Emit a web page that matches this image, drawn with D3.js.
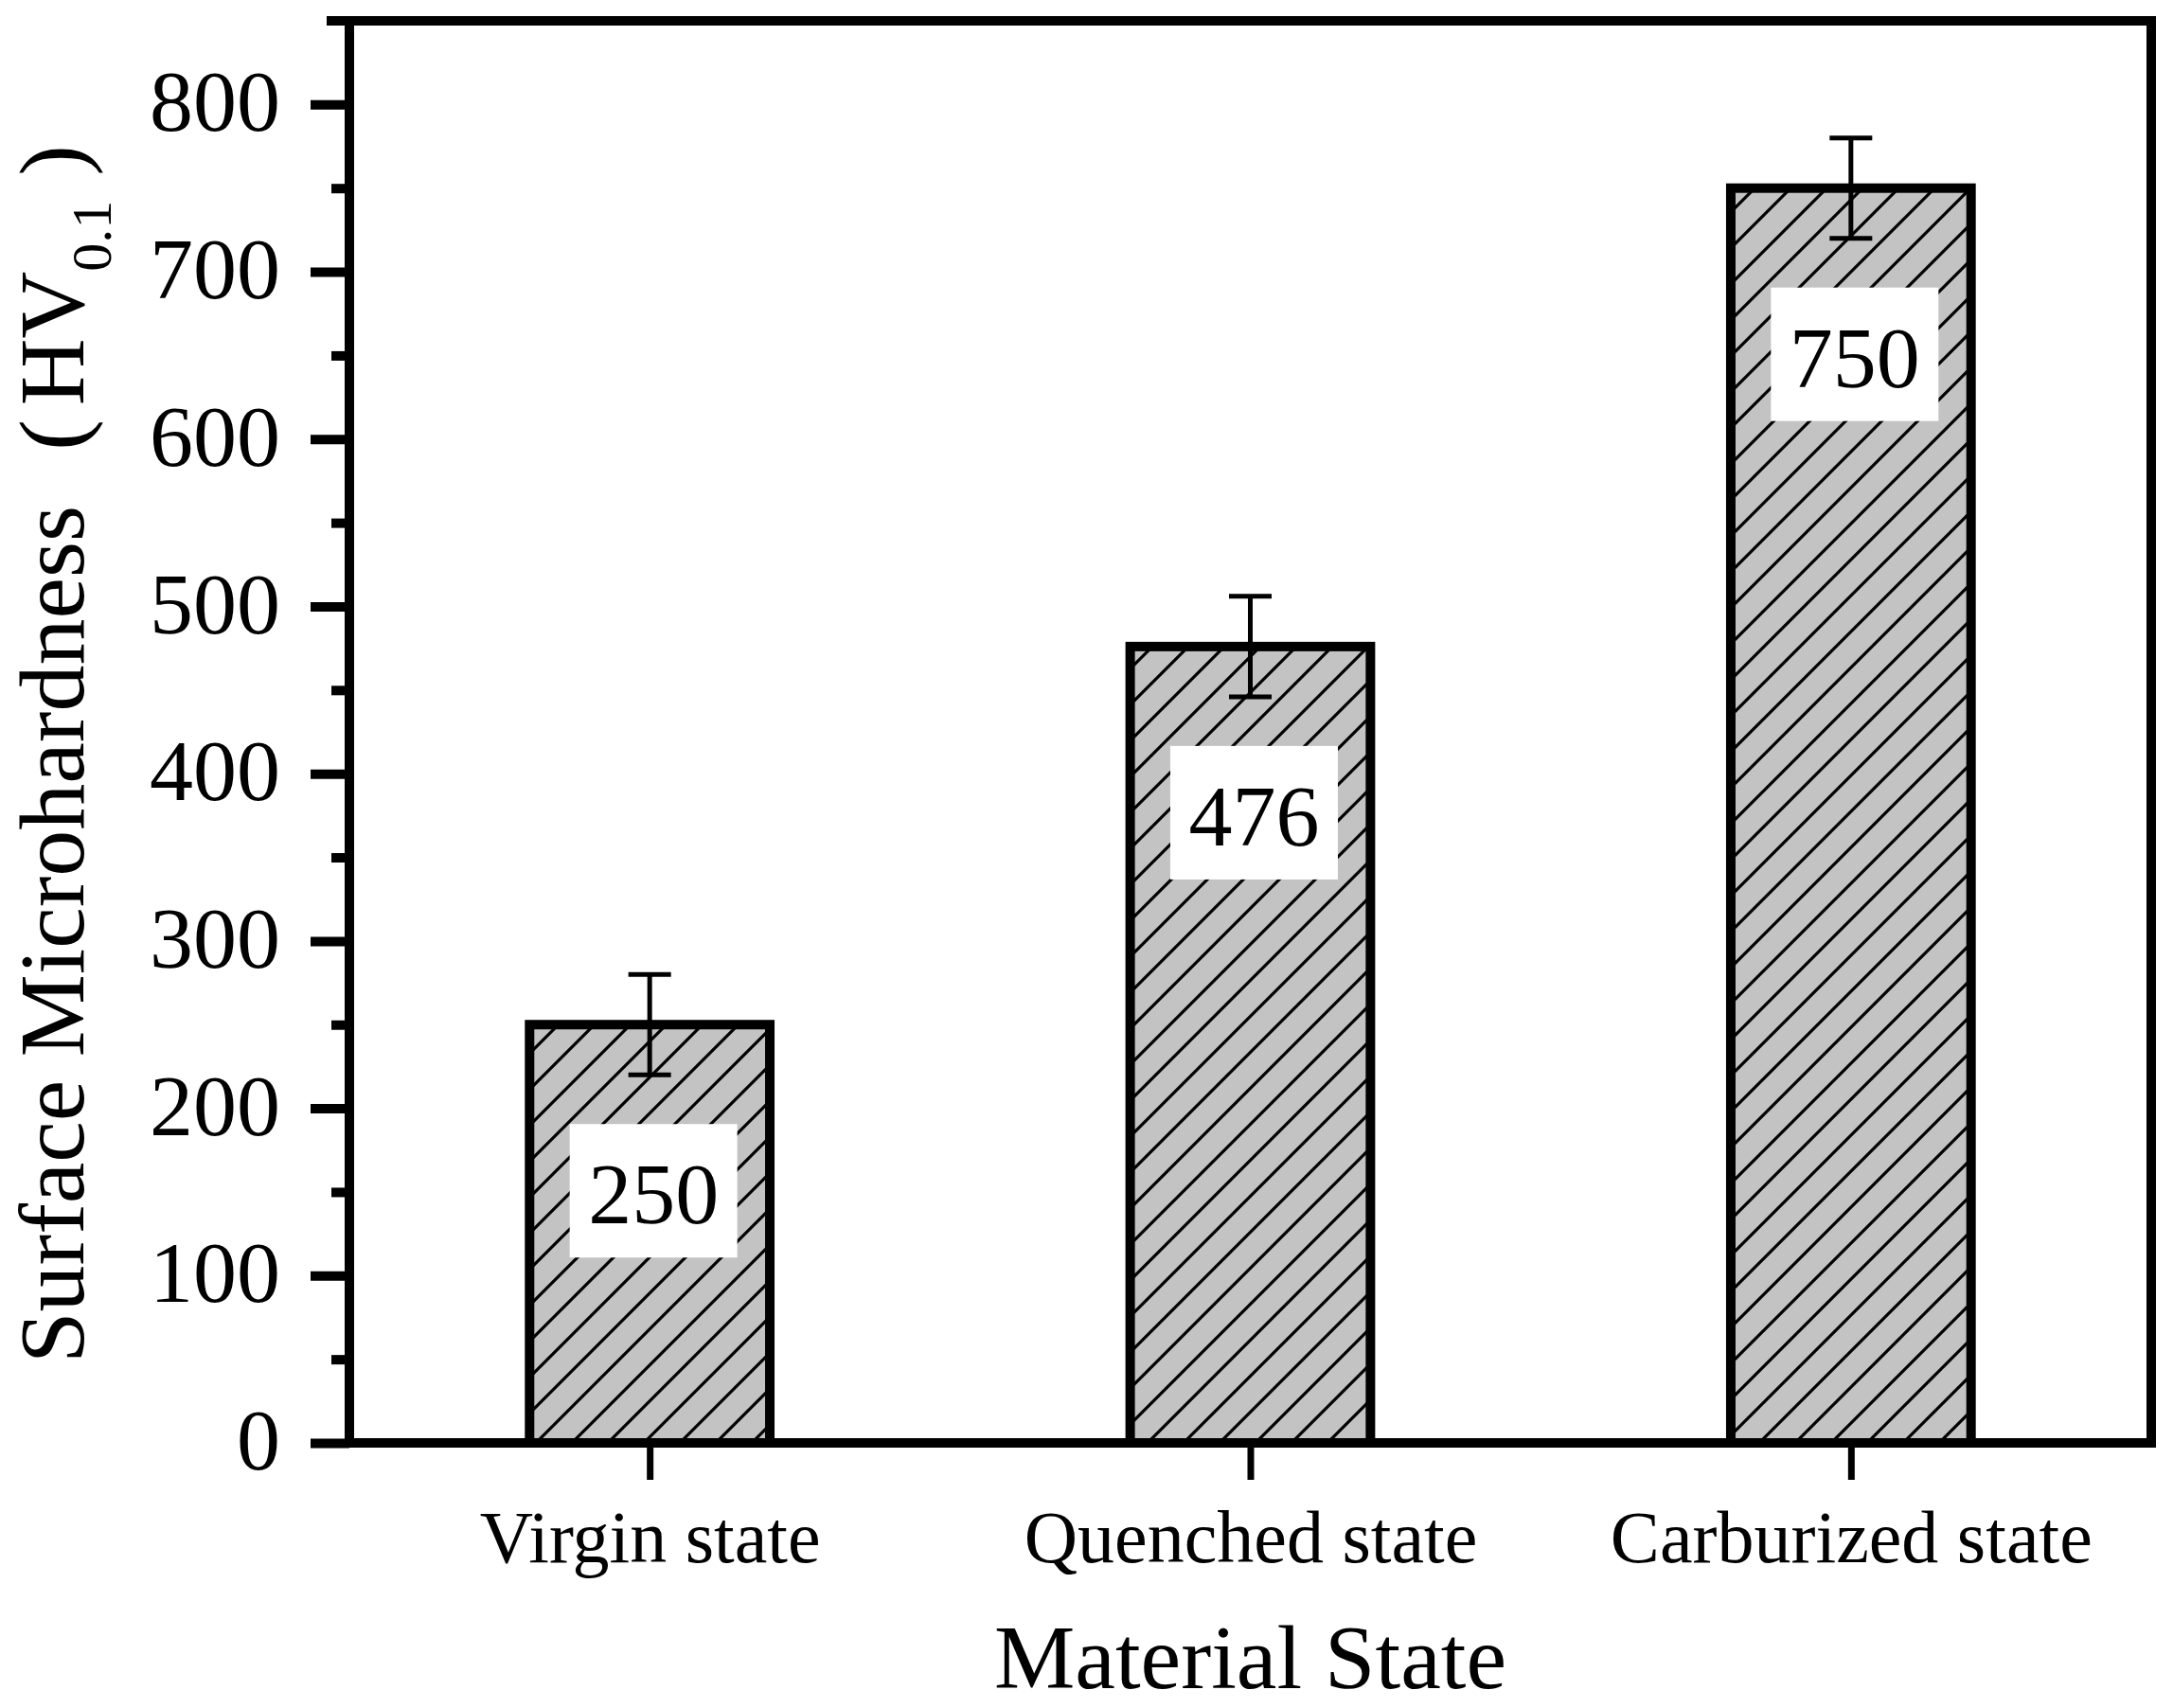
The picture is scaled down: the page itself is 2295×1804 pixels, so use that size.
<!DOCTYPE html>
<html>
<head>
<meta charset="utf-8">
<script src="https://cdn.jsdelivr.net/npm/d3@7"></script>
<style>
  html, body { margin: 0; padding: 0; background: #fff; }
  svg { display: block; }
</style>
</head>
<body>
<svg id="chart" width="2295" height="1804"></svg>
<script>
// ---- data ----
const categories = ["Virgin state", "Quenched state", "Carburized state"];
const hardness = [250, 476, 750];
const errors = [30, 30, 30];
const valueLabels = ["250", "476", "750"];
const yTicks = [0, 100, 200, 300, 400, 500, 600, 700, 800];
const yMinorTicks = [50, 150, 250, 350, 450, 550, 650, 750];
const xTitle = "Material State";
const yTitleMain = "Surface Microhardness";
const yTitleUnit = "HV";
const yTitleSub = "0.1";

// ---- layout ----
const W = 2295, H = 1804;
const pLeft = 369, pRight = 2272, pTop = 22, pBottom = 1524;
const serif = "'Liberation Serif','Times New Roman',Times,serif";
const frameW = 10;

const svg = d3.select("#chart");
svg.append("rect").attr("width", W).attr("height", H).attr("fill", "#fff");

const x = d3.scaleLinear().domain([0.5, 3.5]).range([pLeft, pRight]);
const y = d3.scaleLinear().domain([0, 850]).range([pBottom, pTop]);

// hatch pattern
const defs = svg.append("defs");
const pat = defs.append("pattern")
  .attr("id", "hatch").attr("patternUnits", "userSpaceOnUse")
  .attr("width", 38).attr("height", 38);
pat.append("rect").attr("width", 38).attr("height", 38).attr("fill", "#c3c3c3");
pat.append("path")
  .attr("d", "M0,38 L38,0 M-6,6 L6,-6 M32,44 L44,32")
  .attr("stroke", "#000").attr("stroke-width", 3.2).attr("fill", "none");

// bars
const barW = x(1.4) - x(1);
const g = svg.append("g");
hardness.forEach((v, i) => {
  const cx = x(i + 1);
  g.append("rect")
    .attr("x", cx - barW / 2).attr("y", y(v))
    .attr("width", barW).attr("height", y(0) - y(v))
    .attr("fill", "url(#hatch)")
    .attr("stroke", "#000").attr("stroke-width", frameW)
    .attr("stroke-linejoin", "miter");
});

// error bars
hardness.forEach((v, i) => {
  const cx = x(i + 1);
  const e = errors[i];
  const capW = 45;
  g.append("line").attr("x1", cx).attr("x2", cx)
    .attr("y1", y(v - e)).attr("y2", y(v + e))
    .attr("stroke", "#000").attr("stroke-width", 5);
  [v - e, v + e].forEach(t => {
    g.append("line").attr("x1", cx - capW / 2).attr("x2", cx + capW / 2)
      .attr("y1", y(t)).attr("y2", y(t))
      .attr("stroke", "#000").attr("stroke-width", 5);
  });
});

// value label boxes
hardness.forEach((v, i) => {
  const cx = x(i + 1) + 4;
  const bw = 177, bh = 141;
  const by = y(v) + 105;
  g.append("rect").attr("x", cx - bw / 2).attr("y", by)
    .attr("width", bw).attr("height", bh).attr("fill", "#fff");
  g.append("text").attr("x", cx).attr("y", by + 105)
    .attr("text-anchor", "middle")
    .attr("font-family", serif).attr("font-size", 92)
    .attr("fill", "#000").text(valueLabels[i]);
});

// y axis (major)
const yAxis = d3.axisLeft(y).tickValues(yTicks).tickSize(41).tickPadding(32)
  .tickFormat(d3.format("d"));
const ya = svg.append("g").attr("transform", `translate(${pLeft},0)`).call(yAxis);
ya.select(".domain").remove();
ya.selectAll(".tick line").attr("stroke", "#000").attr("stroke-width", 10);
ya.selectAll(".tick text").attr("font-family", serif).attr("font-size", 92)
  .attr("fill", "#000").attr("dy", "0.3em");

// y axis (minor)
const yMinor = d3.axisLeft(y).tickValues(yMinorTicks).tickSize(19).tickFormat("");
const ym = svg.append("g").attr("transform", `translate(${pLeft},0)`).call(yMinor);
ym.select(".domain").remove();
ym.selectAll(".tick line").attr("stroke", "#000").attr("stroke-width", 10);

// x axis
const xAxis = d3.axisBottom(x).tickValues([1, 2, 3]).tickSize(39)
  .tickFormat((d) => categories[d - 1]);
const xa = svg.append("g").attr("transform", `translate(0,${pBottom})`).call(xAxis);
xa.select(".domain").remove();
xa.selectAll(".tick line").attr("stroke", "#000").attr("stroke-width", 7);
xa.selectAll(".tick text").attr("font-family", serif).attr("font-size", 78)
  .attr("fill", "#000").attr("y", 126).attr("dy", 0);

// frame
const frame = svg.append("g").attr("stroke", "#000").attr("stroke-width", frameW)
  .attr("stroke-linecap", "square");
frame.append("line").attr("x1", pLeft).attr("x2", pLeft).attr("y1", pTop).attr("y2", pBottom);
frame.append("line").attr("x1", pLeft).attr("x2", pRight).attr("y1", pBottom).attr("y2", pBottom);
frame.append("line").attr("x1", pRight).attr("x2", pRight).attr("y1", pTop).attr("y2", pBottom);
frame.append("line").attr("x1", 350).attr("x2", pRight).attr("y1", pTop).attr("y2", pTop);

// x title
svg.append("text").attr("x", (pLeft + pRight) / 2).attr("y", 1783)
  .attr("text-anchor", "middle").attr("font-family", serif).attr("font-size", 96)
  .attr("fill", "#000").text(xTitle);

// y title (full-width brackets emulated with spacing)
const yt = svg.append("text")
  .attr("transform", "translate(88,1440) rotate(-90)")
  .attr("text-anchor", "start").attr("font-family", serif).attr("font-size", 98)
  .attr("fill", "#000");
yt.append("tspan").text(yTitleMain);
yt.append("tspan").attr("dx", 58).text("(");
yt.append("tspan").attr("dx", 15).text(yTitleUnit);
yt.append("tspan").attr("font-size", 60).attr("dy", 29).text(yTitleSub);
yt.append("tspan").attr("dx", 26).attr("dy", -29).text(")");
</script>
</body>
</html>
